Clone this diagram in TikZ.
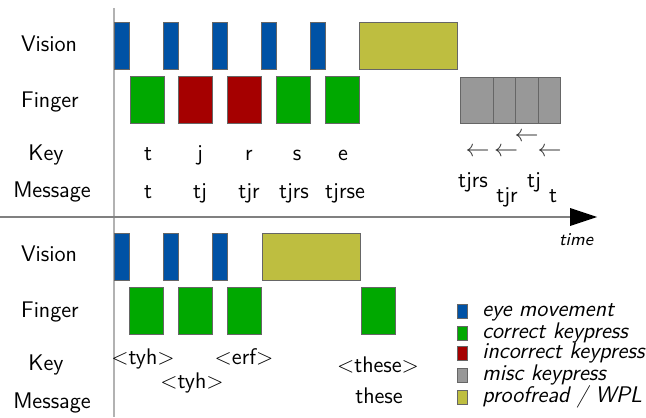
\documentclass[tikz,border=0pt]{standalone}
\usepackage{fontspec}
\definecolor{eyeblue}{RGB}{0,82,165}
\definecolor{okgreen}{RGB}{0,168,0}
\definecolor{badred}{RGB}{165,0,0}
\definecolor{miscgray}{RGB}{152,152,152}
\definecolor{pfolive}{RGB}{190,190,64}
\tikzset{
  bx/.style={draw=black!60, line width=0.4pt},
  eye/.style={bx, fill=eyeblue},
  ok/.style={bx, fill=okgreen},
  bad/.style={bx, fill=badred},
  misc/.style={bx, fill=miscgray},
  pf/.style={bx, fill=pfolive},
  lbl/.style={anchor=base, inner sep=0pt, font=\fontsize{11.3}{13}\selectfont\sffamily},
  leg/.style={anchor=base west, inner sep=0pt, font=\fontsize{11.3}{13}\selectfont\sffamily\itshape},
  arr/.style={inner sep=0pt, text=black!80, font=\fontsize{12.5}{13}\selectfont},
}
\begin{document}
\begin{tikzpicture}[x=0.5pt,y=-0.5pt]
\useasboundingbox (0,0) rectangle (646,417);
% axes
\draw[black!30, line width=0.8pt] (114,8) -- (114,417);
\draw[black!50, line width=0.6pt] (0,217) -- (575,217);
\coordinate (tipA) at (570,208);
\coordinate (tipB) at (597,217);
\coordinate (tipC) at (570,226);
\fill[black] (tipA) -- (tipB) -- (tipC) -- cycle;
\node[anchor=base, inner sep=0pt, font=\fontsize{9}{10}\selectfont\sffamily\itshape] (time) at (576,245) {time};
% ---------- top ----------
\node[lbl] (v1) at (49,52) {Vision};
\node[lbl] (f1) at (50,107) {Finger};
\node[lbl] (k1) at (46,160) {Key};
\node[lbl] (m1) at (52,197) {Message};
\foreach \x in {114,163,212,261,310} \draw[eye] (\x,22) rectangle ++(15,47);
\draw[pf] (359,22) rectangle (457,69);
\draw[ok] (130,76) rectangle ++(34,47);
\draw[bad] (178,76) rectangle ++(34,47);
\draw[bad] (227,76) rectangle ++(34,47);
\draw[ok] (276,76) rectangle ++(34,47);
\draw[ok] (325,76) rectangle ++(34,47);
\draw[misc] (460,77) rectangle (493,123);
\draw[misc] (493,77) rectangle (515.5,123);
\draw[misc] (515.5,77) rectangle (538,123);
\draw[misc] (538,77) rectangle (560,123);
\node[lbl] (kt) at (148,160) {t};
\node[lbl] (kj) at (200,160) {j};
\node[lbl] (kr) at (249,160) {r};
\node[lbl] (ks) at (297,160) {s};
\node[lbl] (ke) at (343,160) {e};
\node[lbl] (mt) at (148,198) {t};
\node[lbl] (mtj) at (200,198) {tj};
\node[lbl] (mtjr) at (249,198) {tjr};
\node[lbl] (mtjrs) at (294,198) {tjrs};
\node[lbl] (mtjrse) at (345,198) {tjrse};
\node[arr] (a1) at (477.5,152) {$\leftarrow$};
\node[arr] (a2) at (506,152) {$\leftarrow$};
\node[arr] (a3) at (526.5,137) {$\leftarrow$};
\node[arr] (a4) at (549.5,152) {$\leftarrow$};
\node[lbl] (b1) at (473,187) {tjrs};
\node[lbl] (b2) at (507,202) {tjr};
\node[lbl] (b3) at (534,187) {tj};
\node[lbl] (b4) at (553,202) {t};
% ---------- bottom ----------
\node[lbl] (v2) at (49,261) {Vision};
\node[lbl] (f2) at (50,317) {Finger};
\node[lbl] (k2) at (46,370) {Key};
\node[lbl] (m2) at (52,408) {Message};
\foreach \x in {114,163,212} \draw[eye] (\x,233) rectangle ++(15,47);
\draw[pf] (262,233) rectangle (360,280);
\draw[ok] (129,287) rectangle ++(34,47);
\draw[ok] (178,287) rectangle ++(34,47);
\draw[ok] (227,287) rectangle ++(34,47);
\draw[ok] (361,287) rectangle ++(34,47);
\node[lbl] (c1) at (143,364) {<tyh>};
\node[lbl] (c2) at (192,388) {<tyh>};
\node[lbl] (c3) at (244,364) {<erf>};
\node[lbl] (c4) at (378,372) {<these>};
\node[lbl] (c5) at (379,403) {these};
% ---------- legend ----------
\draw[eye] (457.5,304) rectangle ++(10,14);
\draw[ok] (457.5,326) rectangle ++(10,14);
\draw[bad] (457.5,346) rectangle ++(10,14);
\draw[misc] (457.5,368) rectangle ++(10,14);
\draw[pf] (457.5,390) rectangle ++(10,14);
\node[leg] (l1) at (482,316) {eye movement};
\node[leg] (l2) at (482,338) {correct keypress};
\node[leg] (l3) at (482,358) {incorrect keypress};
\node[leg] (l4) at (482,380) {misc keypress};
\node[leg] (l5) at (482,402) {proofread / WPL};
\end{tikzpicture}
\end{document}
